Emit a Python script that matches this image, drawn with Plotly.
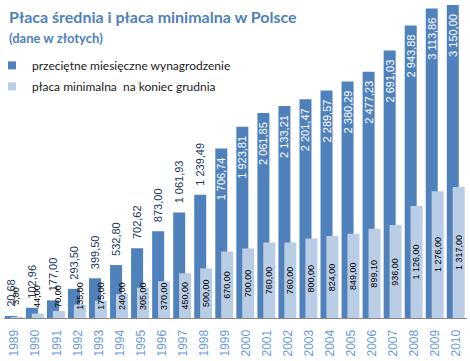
import plotly.graph_objects as go

years = [str(y) for y in range(1989, 2011)]
avg_wage = [20.68, 102.96, 177.00, 293.50, 399.50, 532.80, 702.62, 873.00, 1061.93, 1239.49,
            1706.74, 1923.81, 2061.85, 2133.21, 2201.47, 2289.57, 2380.29, 2477.23, 2691.03,
            2943.88, 3113.86, 3150.00]
min_wage = [3.80, 44.00, 70.00, 135.00, 175.00, 240.00, 305.00, 370.00, 450.00, 500.00,
            670.00, 700.00, 760.00, 760.00, 800.00, 824.00, 849.00, 899.10, 936.00,
            1126.00, 1276.00, 1317.00]

series_names = ["przeciętne miesięczne wynagrodzenie", "płaca minimalna  na koniec grudnia"]
title_text = "Płaca średnia i płaca minimalna w Polsce"
subtitle_text = "(dane w złotych)"

DARK = "#4F81BD"
LIGHT = "#B9CDE5"
TITLE_C = "#4F81BD"
PAD = "\u00a0\u00a0"


def pl_fmt(v):
    s = f"{v:,.2f}"
    return s.replace(",", "\u00a0").replace(".", ",")


dark_pos = ["outside" if v < 1500 else "inside" for v in avg_wage]
dark_text = [(PAD + pl_fmt(v)) if p == "outside" else (pl_fmt(v) + PAD)
             for v, p in zip(avg_wage, dark_pos)]

fig = go.Figure()
fig.add_trace(go.Bar(
    x=years, y=avg_wage, marker_color=DARK, marker_line_width=0,
    offset=-0.46, width=0.57,
    text=dark_text, textposition=dark_pos, textangle=-90,
    insidetextanchor="end", constraintext="none", cliponaxis=False,
    insidetextfont=dict(family="Arial, Liberation Sans", size=11, color="white"),
    outsidetextfont=dict(family="Arial, Liberation Sans", size=11, color="#17375E"),
    showlegend=False, hoverinfo="skip",
))
fig.add_trace(go.Bar(
    x=years, y=min_wage, marker_color=LIGHT, marker_line_width=0,
    offset=-0.18, width=0.57, showlegend=False, hoverinfo="skip",
))

# legend entries
fig.add_trace(go.Scatter(x=[None], y=[None], mode="markers", name=series_names[0],
                         marker=dict(symbol="square", size=8, color=DARK), legendgroup="a"))
fig.add_trace(go.Scatter(x=[None], y=[None], mode="markers", name=series_names[1],
                         marker=dict(symbol="square", size=8, color=LIGHT), legendgroup="b"))

annotations = []
for i, v in enumerate(min_wage):
    annotations.append(dict(
        x=i, y=max(v / 2, 220), xref="x", yref="y", text=pl_fmt(v), textangle=-90,
        showarrow=False, xshift=2, font=dict(family="Arial, Liberation Sans", size=9, color="black"),
    ))

annotations.append(dict(x=0.006, y=0.984, xref="paper", yref="paper", xanchor="left", yanchor="top",
                        text="<b>" + title_text + "</b>", showarrow=False,
                        font=dict(family="Lato", size=16, color=TITLE_C)))
annotations.append(dict(x=0.006, y=0.912, xref="paper", yref="paper", xanchor="left", yanchor="top",
                        text="<b>" + subtitle_text + "</b>", showarrow=False,
                        font=dict(family="Lato", size=13, color=TITLE_C)))

fig.update_layout(
    width=470, height=361,
    margin=dict(l=4, r=3, t=0, b=43),
    barmode="overlay",
    plot_bgcolor="white", paper_bgcolor="white",
    annotations=annotations,
    legend=dict(x=0, y=0.84, xanchor="left", yanchor="top", bgcolor="rgba(0,0,0,0)",
                font=dict(family="Lato", size=12, color="#1a1a1a"), tracegroupgap=2,
                itemwidth=30, indentation=-12),
    xaxis=dict(type="category", showline=True, linecolor="#888888", linewidth=1,
               ticks="", tickangle=-90, showgrid=False, ticklabelstandoff=6,
               tickfont=dict(family="Arial, Liberation Sans", size=12, color="#6A9AD8"),
               range=[-0.5, 21.5]),
    yaxis=dict(visible=False, range=[0, 3200], showgrid=False, zeroline=False),
)

fig.write_html("out.html", config={"displayModeBar": False},
               post_script="document.body.style.margin='0';")
